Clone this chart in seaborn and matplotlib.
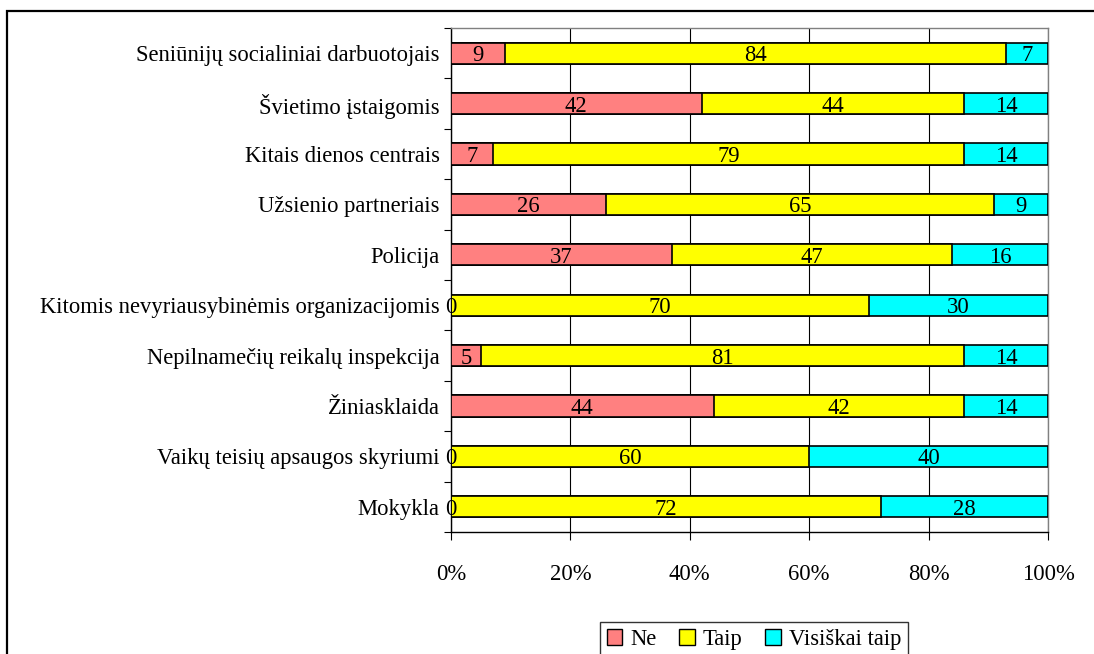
import seaborn as sns
import matplotlib.pyplot as plt
import matplotlib.patches as mpatches
import numpy as np
import pandas as pd

# duomenys (procentai)
kategorijos = ["Seniūnijų socialiniai darbuotojais", "Švietimo įstaigomis",
               "Kitais dienos centrais", "Užsienio partneriais", "Policija",
               "Kitomis nevyriausybinėmis organizacijomis",
               "Nepilnamečių reikalų inspekcija", "Žiniasklaida",
               "Vaikų teisių apsaugos skyriumi", "Mokykla"]
ne = [9, 42, 7, 26, 37, 0, 5, 44, 0, 0]
taip = [84, 44, 79, 65, 47, 70, 81, 42, 60, 72]
visiskai = [7, 14, 14, 9, 16, 30, 14, 14, 40, 28]

serijos = ["Ne", "Taip", "Visiškai taip"]
spalvos = ["#FF8080", "#FFFF00", "#00FFFF"]

sns.set_style("white")
plt.rcParams['font.family'] = ['Liberation Serif', 'DejaVu Serif']
plt.rcParams['text.color'] = 'black'
plt.rcParams['xtick.color'] = 'black'
plt.rcParams['ytick.color'] = 'black'
fs = 16.3

df = pd.DataFrame({"kat": kategorijos, "Ne": ne, "Taip": taip, "Visiškai taip": visiskai})
vals = df[serijos].to_numpy(dtype=float)
vals = vals / vals.sum(axis=1, keepdims=True) * 100
cum = np.cumsum(vals, axis=1)

fig = plt.figure(figsize=(10.94, 6.54), dpi=100)
ax = fig.add_axes([451/1094, 1-532/654, (1048-451)/1094, (532-28)/654])

# stacked bars: draw cumulative totals from the last series back
for i in range(len(serijos) - 1, -1, -1):
    sns.barplot(x=cum[:, i], y=df["kat"], color=spalvos[i], orient="h",
                width=0.42, edgecolor="black", linewidth=1.2, saturation=1, ax=ax, zorder=3)

# labels centred in each segment
for i in range(len(serijos)):
    left = cum[:, i] - vals[:, i]
    for j in range(len(kategorijos)):
        ax.text(left[j] + vals[:, i][j] / 2, j, f"{df[serijos[i]][j]:g}",
                ha="center", va="center_baseline", fontsize=fs, color="black", zorder=5)

ax.set_xlim(0, 100)
ax.set_ylim(len(kategorijos) - 0.5, -0.5)
ax.set_xticks(np.arange(0, 101, 20))
ax.set_xticklabels([f"{v}%" for v in range(0, 101, 20)])
ax.xaxis.grid(True, color="black", linewidth=0.8, zorder=0)
ax.set_axisbelow(True)
ax.set_xlabel("")
ax.set_ylabel("")

ax.set_yticks(np.arange(len(kategorijos)))
ax.set_yticklabels(kategorijos)
ax.set_yticks(np.arange(len(kategorijos) + 1) - 0.5, minor=True)
ax.tick_params(axis="y", which="major", length=0, pad=8, labelsize=fs, labelcolor="black")
ax.tick_params(axis="y", which="minor", length=5, width=0.8, color="black", direction="out", left=True)
ax.tick_params(axis="x", which="major", length=6, width=0.8, color="black", direction="out",
               bottom=True, pad=17, labelsize=fs, labelcolor="black")

ax.spines["left"].set_color("black")
ax.spines["bottom"].set_color("black")
ax.spines["top"].set_color("#808080")
ax.spines["right"].set_color("#808080")
for s in ax.spines.values():
    s.set_linewidth(1)

handles = [mpatches.Patch(facecolor=c, edgecolor="black", label=l) for c, l in zip(spalvos, serijos)]
leg = fig.legend(handles=handles, loc="upper center", bbox_to_anchor=(754/1094, 1-611/654), ncol=3,
                 frameon=True, fancybox=False, edgecolor="black", fontsize=fs,
                 handlelength=0.7, handleheight=0.7, handletextpad=0.35, columnspacing=1.0,
                 borderpad=0.3)
for t in leg.get_texts():
    t.set_color("black")

# outer chart frame
fig.add_artist(mpatches.Rectangle((7/1094, -0.1), 1.2, 1.1 - 11/654, transform=fig.transFigure,
                                  fill=False, edgecolor="black", linewidth=1.6))

fig.savefig("out.png", dpi=100)
